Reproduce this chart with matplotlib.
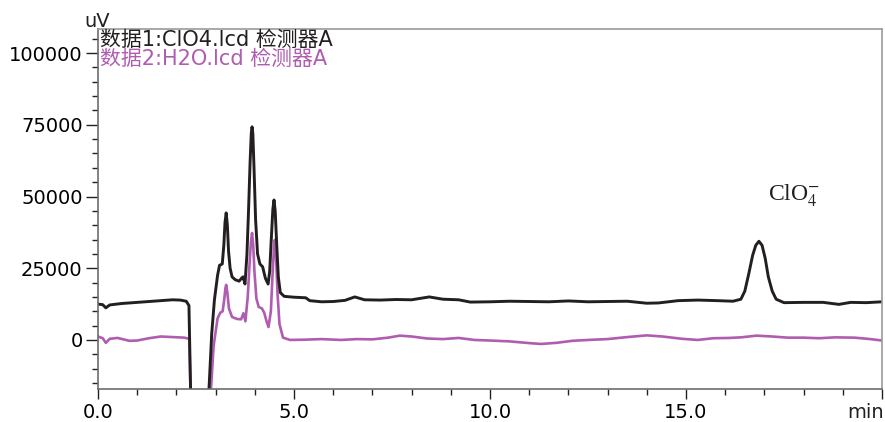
import matplotlib
matplotlib.use("Agg")
import matplotlib.pyplot as plt
from matplotlib.ticker import MultipleLocator, FixedLocator

plt.rcParams['font.family'] = ['DejaVu Sans']
plt.rcParams['mathtext.fontset'] = 'stix'

# ---- data ----
t_black = [0.0, 0.12, 0.2, 0.3, 0.6, 1.0, 1.5, 1.9, 2.1, 2.25, 2.32, 2.38, 2.42, 2.78,
           2.83, 2.9, 2.97, 3.05, 3.1, 3.17, 3.21, 3.24, 3.27, 3.30, 3.33, 3.37, 3.42,
           3.5, 3.6, 3.66, 3.7, 3.75, 3.8, 3.84, 3.88, 3.91, 3.93, 3.95, 3.98, 4.02,
           4.07, 4.13, 4.2, 4.27, 4.34, 4.38, 4.42, 4.46, 4.49, 4.52, 4.56, 4.6, 4.65,
           4.75, 5.0, 5.3, 5.4, 5.7, 6.0, 6.3, 6.55, 6.8, 7.2, 7.6, 8.0,
           8.45, 8.8, 9.2, 9.5, 10.0, 10.5, 11.0, 11.5, 12.0, 12.5, 13.0, 13.5, 14.0,
           14.3, 14.8, 15.3, 15.8, 16.2, 16.4, 16.5, 16.6, 16.7, 16.78, 16.86, 16.94,
           17.02, 17.1, 17.2, 17.3, 17.5, 18.0, 18.5, 18.9, 19.2, 19.6, 20.0]
v_black = [12500, 12300, 11200, 12200, 12700, 13100, 13600, 14000, 13900, 13500, 12000,
           -30000, -60000, -60000,
           -17500, 2000, 14000, 22500, 26000, 26500, 33000, 41000, 44300, 40000, 31000,
           25000, 22000, 21000, 20500, 21500, 22000, 19500, 30000, 45000, 62000, 72000,
           74300, 72000, 60000, 42000, 30000, 26500, 25500, 21500, 19500, 24000, 35000,
           45500, 48800, 45000, 33000, 22000, 16500, 15200, 14900, 14700, 13700, 13300,
           13400, 13800, 15000, 14000, 13900, 14100, 14000, 15000, 14200, 14000, 13200,
           13300, 13500, 13400, 13300, 13600, 13300, 13400, 13500, 12800, 12900, 13700,
           13900, 13700, 13500, 14200, 17000, 23000, 29500, 33000, 34400, 33000, 28500,
           22000, 17000, 14200, 13000, 13100, 13100, 12400, 13100, 13000, 13300]

t_purple = [0.0, 0.12, 0.2, 0.3, 0.5, 0.8, 1.0, 1.3, 1.6, 1.9, 2.2, 2.33, 2.38, 2.42,
            2.8, 2.88, 2.95, 3.05, 3.12, 3.18, 3.22, 3.25, 3.27, 3.30, 3.34, 3.42, 3.55,
            3.65, 3.71, 3.76, 3.82, 3.86, 3.9, 3.93, 3.96, 3.99, 4.04, 4.1, 4.18, 4.24,
            4.3, 4.35, 4.41, 4.45, 4.49, 4.51, 4.54, 4.58, 4.63, 4.72, 4.9, 5.3, 5.7,
            6.2, 6.6, 7.0, 7.4, 7.7, 8.0, 8.4, 8.8,
            9.2, 9.6, 10.0, 10.5, 11.0, 11.3, 11.7, 12.1, 12.5, 13.0, 13.5, 14.0, 14.4,
            14.9, 15.3, 15.7, 16.1, 16.4, 16.8, 17.2, 17.6, 18.0, 18.4, 18.8, 19.3,
            19.7, 20.0]
v_purple = [1200, 600, -1000, 400, 700, -300, -200, 600, 1200, 1000, 800, 400, -30000,
            -60000, -60000, -17500, -2000, 7500, 9500, 10000, 14000, 18000, 19200, 16500,
            11000, 8000, 7300, 7200, 9300, 6500, 15000, 25000, 34000, 37300, 33000, 24000,
            14500, 11500, 11000, 9500, 6500, 4500, 10000, 22000, 32500, 34900, 30000,
            16000, 5500, 800, 0, 100, 300, 0, 300, 200, 800, 1500, 1200, 500, 300, 700,
            0, -200, -500, -1100, -1400, -1000, -300, 0, 300, 1000, 1600, 1200, 400, 0,
            600, 700, 900, 1500, 1200, 800, 800, 600, 900, 800, 300, -200]

x_ticks = [0.0, 5.0, 10.0, 15.0, 20.0]
x_tick_labels = ["0.0", "5.0", "10.0", "15.0", ""]
y_ticks = [0, 25000, 50000, 75000, 100000]
y_tick_labels = ["0", "25000", "50000", "75000", "100000"]
legend_labels = ["数据1:ClO4.lcd 检测器A", "数据2:H2O.lcd 检测器A"]

black = '#231f20'
purple = '#b05cb0'

fig = plt.figure(figsize=(8.85, 4.22), dpi=100)
ax = fig.add_axes([98/885, 1-389/422, 784/885, 360/422])

ax.plot(t_purple, v_purple, color=purple, lw=1.9, solid_joinstyle='round')
ax.plot(t_black, v_black, color=black, lw=2.1, solid_joinstyle='round')

ax.set_xlim(0, 20)
ax.set_ylim(-17100, 108400)

ax.xaxis.set_major_locator(FixedLocator(x_ticks))
ax.set_xticklabels(x_tick_labels)
ax.xaxis.set_minor_locator(MultipleLocator(1.0))
ax.yaxis.set_major_locator(FixedLocator(y_ticks))
ax.set_yticklabels(y_tick_labels)
ax.yaxis.set_minor_locator(MultipleLocator(5000))

ax.tick_params(which='major', direction='out', length=7, width=1.0, color='#222222',
               labelsize=14, pad=3)
ax.tick_params(which='minor', direction='out', length=4, width=1.0, color='#222222')
ax.tick_params(axis='y', which='major', length=9, pad=2)

for s in ['left', 'bottom']:
    ax.spines[s].set_color('#6d6d6d')
    ax.spines[s].set_linewidth(1.2)
for s in ['top', 'right']:
    ax.spines[s].set_color('#9a9a9a')
    ax.spines[s].set_linewidth(1.2)

cjk = ['DejaVu Sans', 'Noto Sans CJK SC']
ax.text(0.002, 0.969, legend_labels[0], transform=ax.transAxes, ha='left', va='center',
        fontsize=15, color=black, family=cjk)
ax.text(0.002, 0.918, legend_labels[1], transform=ax.transAxes, ha='left', va='center',
        fontsize=15, color=purple, family=cjk)

fig.text(97/885, 1-27/422, "uV", ha='center', va='baseline', fontsize=14, color=black)
fig.text(884/885, 1-418/422, "min", ha='right', va='baseline', fontsize=14, color=black)

ax.text(17.76, 48800, r"ClO$_4^{-}$", ha='center', va='baseline', fontsize=17,
        color=black, family='Liberation Serif')

fig.savefig("out.png", dpi=100)
